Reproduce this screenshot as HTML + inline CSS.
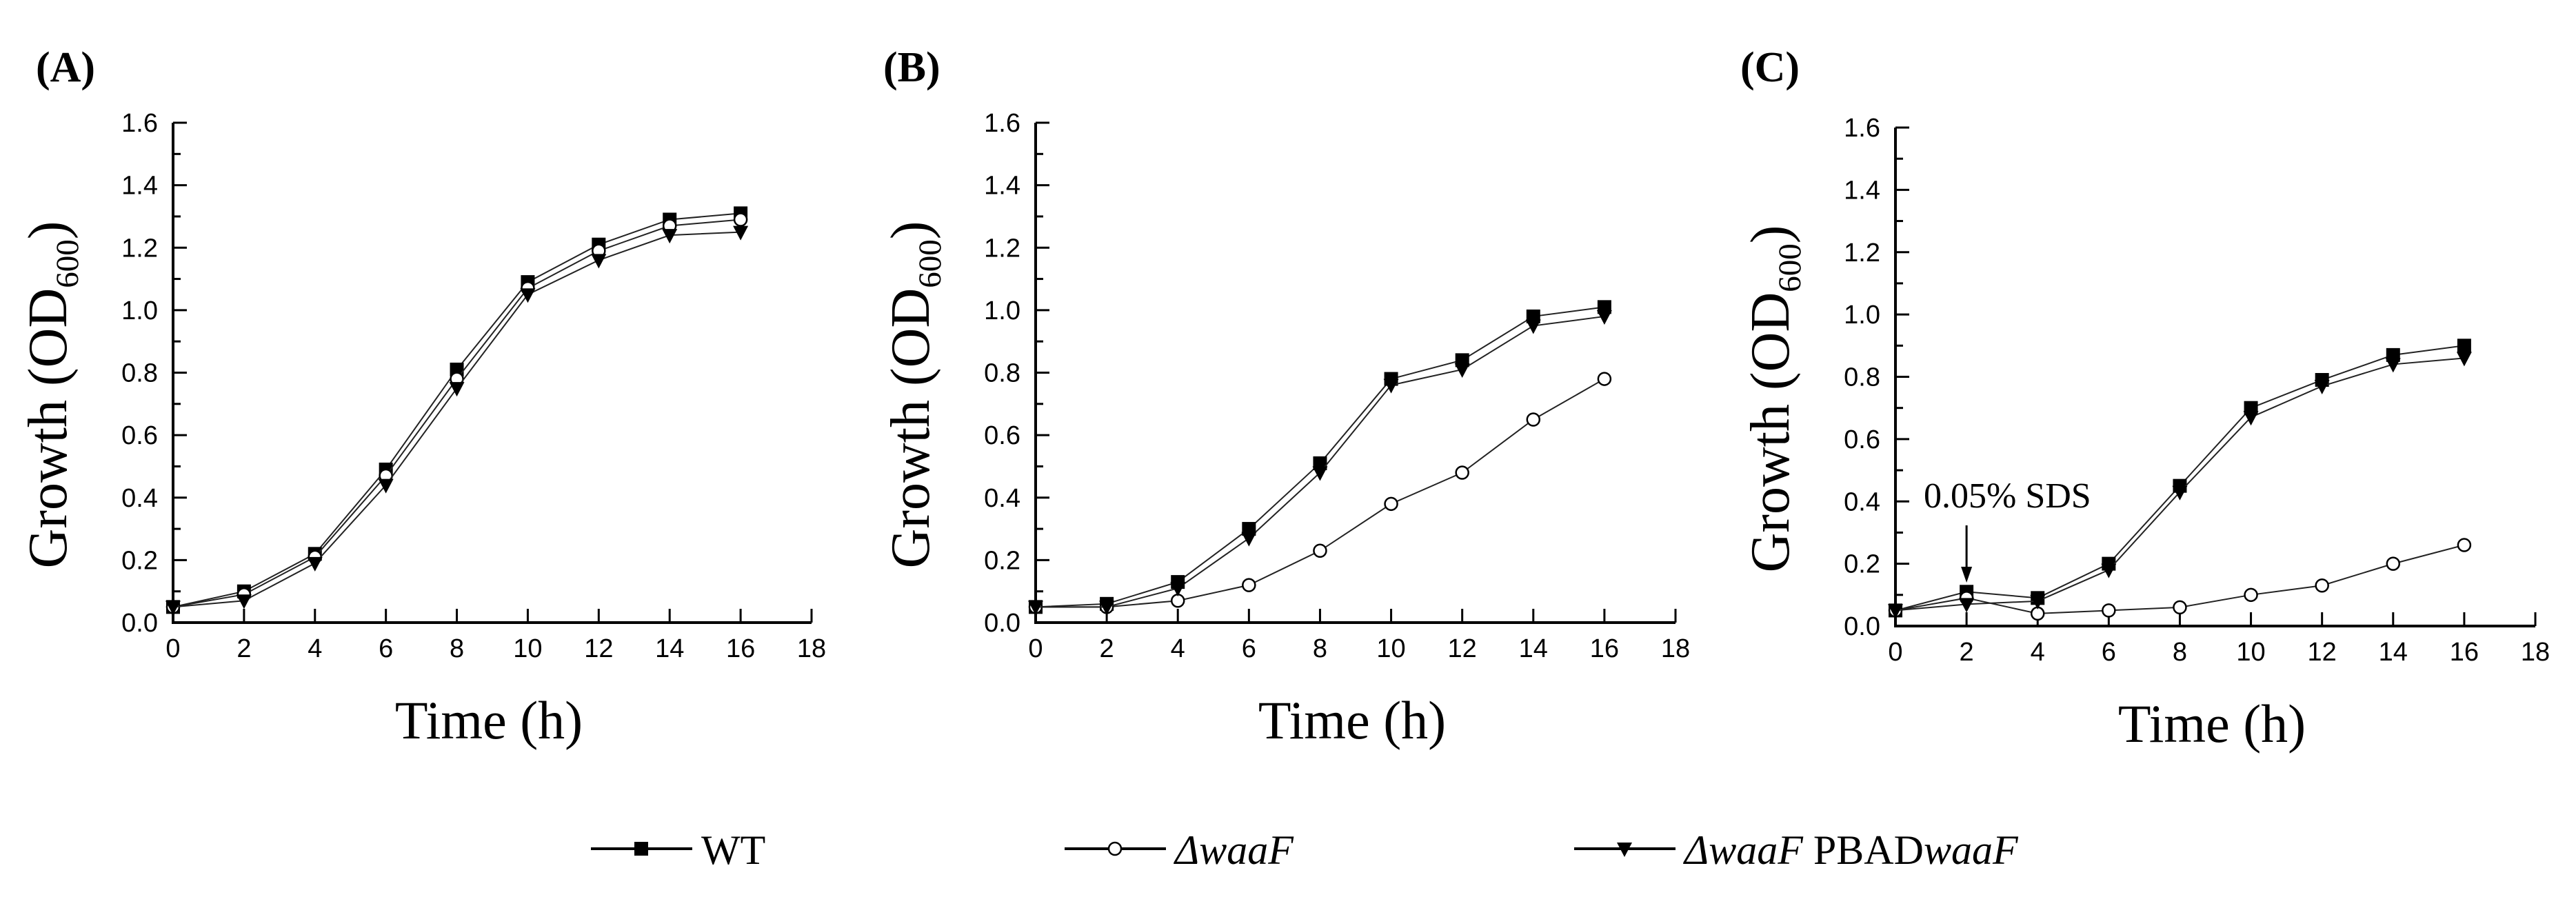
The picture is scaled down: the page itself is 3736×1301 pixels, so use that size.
<!DOCTYPE html>
<html><head><meta charset="utf-8"><style>
html,body{margin:0;padding:0;background:#fff}
svg{display:block}
</style></head><body>
<svg id="fig" width="3736" height="1301" viewBox="0 0 3736 1301" xmlns="http://www.w3.org/2000/svg">
<rect width="3736" height="1301" fill="#fff"/>
</svg>
<script>
const hours = [0,2,4,6,8,10,12,14,16];
const xTicks = [0,2,4,6,8,10,12,14,16,18];
const yTicks = [0.0,0.2,0.4,0.6,0.8,1.0,1.2,1.4,1.6];
const panelLabels = ["(A)","(B)","(C)"];
const wtA = [0.05,0.10,0.22,0.49,0.81,1.09,1.21,1.29,1.31];
const mutA = [0.05,0.09,0.21,0.47,0.78,1.07,1.19,1.27,1.29];
const compA = [0.05,0.07,0.19,0.44,0.75,1.05,1.16,1.24,1.25];
const wtB = [0.05,0.06,0.13,0.30,0.51,0.78,0.84,0.98,1.01];
const mutB = [0.05,0.05,0.07,0.12,0.23,0.38,0.48,0.65,0.78];
const compB = [0.05,0.05,0.11,0.27,0.48,0.76,0.81,0.95,0.98];
const wtC = [0.05,0.11,0.09,0.20,0.45,0.70,0.79,0.87,0.90];
const mutC = [0.05,0.09,0.04,0.05,0.06,0.10,0.13,0.20,0.26];
const compC = [0.05,0.07,0.08,0.18,0.43,0.67,0.77,0.84,0.86];

const NS = "http://www.w3.org/2000/svg";
const svg = document.getElementById('fig');
function mk(tag, attrs, parent){
  const e = document.createElementNS(NS, tag);
  for (const k in attrs) e.setAttribute(k, attrs[k]);
  (parent||svg).appendChild(e);
  return e;
}
const panels = [
  {x0:251,x1:1177,y0:903,y1:178,lx:52,data:[wtA,mutA,compA],name:'a'},
  {x0:1502,x1:2430,y0:903,y1:178,lx:1281,data:[wtB,mutB,compB],name:'b'},
  {x0:2749,x1:3677,y0:908,y1:185,lx:2524,data:[wtC,mutC,compC],name:'c'}
];
function marker(g, kind, x, y){
  let m;
  if (kind===0){ m = mk('rect',{x:x-10,y:y-10,width:20,height:20,fill:'#000'},g); }
  else if (kind===1){ m = mk('circle',{cx:x,cy:y,r:9,fill:'#fff',stroke:'#000','stroke-width':2.5},g); }
  else { m = mk('polygon',{points:`${x-11},${y-9} ${x+11},${y-9} ${x},${y+12}`,fill:'#000'},g); }
  return m;
}
panels.forEach((p,pi)=>{
  const g = mk('g',{});
  
  
  const X = v => p.x0 + (p.x1-p.x0)*v/18;
  const Y = v => p.y0 - (p.y0-p.y1)*v/1.6;
  const lab = mk('text',{x:p.lx,y:118,'font-family':'Liberation Serif, serif','font-weight':'bold','font-size':62},g);
  lab.textContent = panelLabels[pi];
  
  
  const ax = mk('path',{d:`M${p.x0},${p.y1} L${p.x0},${p.y0} L${p.x1},${p.y0}`,fill:'none',stroke:'#000','stroke-width':4},g);
  
  
  yTicks.forEach(v=>{
    mk('line',{x1:p.x0,x2:p.x0+20,y1:Y(v),y2:Y(v),stroke:'#000','stroke-width':3},g);
    if (v<1.6) mk('line',{x1:p.x0,x2:p.x0+11,y1:Y(v+0.1),y2:Y(v+0.1),stroke:'#000','stroke-width':3},g);
    const t = mk('text',{x:p.x0-22,y:Y(v)+13,'text-anchor':'end','font-family':'Liberation Sans, sans-serif','font-size':38},g);
    t.textContent = v.toFixed(1);
    
    
  });
  xTicks.forEach(v=>{
    mk('line',{x1:X(v),x2:X(v),y1:p.y0,y2:p.y0-20,stroke:'#000','stroke-width':3},g);
    const t = mk('text',{x:X(v),y:p.y0+50,'text-anchor':'middle','font-family':'Liberation Sans, sans-serif','font-size':38},g);
    t.textContent = v;
    
    
  });
  const xt = mk('text',{x:(p.x0+p.x1)/2-5,y:p.y0+168,'text-anchor':'middle','font-family':'Liberation Serif, serif','font-size':78},g);
  xt.textContent = 'Time (h)';
  
  
  const cy = (p.y0+p.y1)/2 + 32;
  const yt = mk('text',{x:0,y:0,'text-anchor':'middle','font-family':'Liberation Serif, serif','font-size':80,transform:`translate(${p.x0-155},${cy}) rotate(-90)`},g);
  yt.innerHTML = 'Growth (OD<tspan font-size="47" dy="17">600</tspan><tspan dy="-17">)</tspan>';
  
  
  p.data.forEach((series,si)=>{
    const sg = mk('g',{},g);
    
    
    const pts = series.map((v,i)=>`${X(hours[i])},${Y(v)}`).join(' ');
    mk('polyline',{points:pts,fill:'none',stroke:'#222','stroke-width':2},sg);
    series.forEach((v,i)=>{
      const m = marker(sg, si, X(hours[i]), Y(v));
      
      
    });
  });
  if (pi===2){
    const t = mk('text',{x:2790,y:736,'font-family':'Liberation Serif, serif','font-size':52},g);
    t.textContent = '0.05% SDS';
    
    
    const ar = mk('line',{x1:X(2),x2:X(2),y1:762,y2:828,stroke:'#000','stroke-width':3},g);
    
    
    mk('polygon',{points:`${X(2)-8},${822} ${X(2)+8},${822} ${X(2)},${845}`,fill:'#000'},g);
  }
});
const legendNames = ['WT','ΔwaaF','ΔwaaF PBADwaaF'];
const legendX = [857,1544,2283];
legendNames.forEach((n,i)=>{
  const g = mk('g',{});
  
  
  const x = legendX[i];
  mk('line',{x1:x,x2:x+147,y1:1231,y2:1231,stroke:'#000','stroke-width':4},g);
  marker(g, i, x+73, 1231);
  const t = mk('text',{x:x+160,y:1253,'font-family':'Liberation Serif, serif','font-size':60},g);
  if (i===0) t.textContent = 'WT';
  else if (i===1) t.innerHTML = '<tspan font-style="italic">ΔwaaF</tspan>';
  else t.innerHTML = '<tspan font-style="italic">ΔwaaF</tspan> PBAD<tspan font-style="italic">waaF</tspan>';
});
</script>
</body></html>
